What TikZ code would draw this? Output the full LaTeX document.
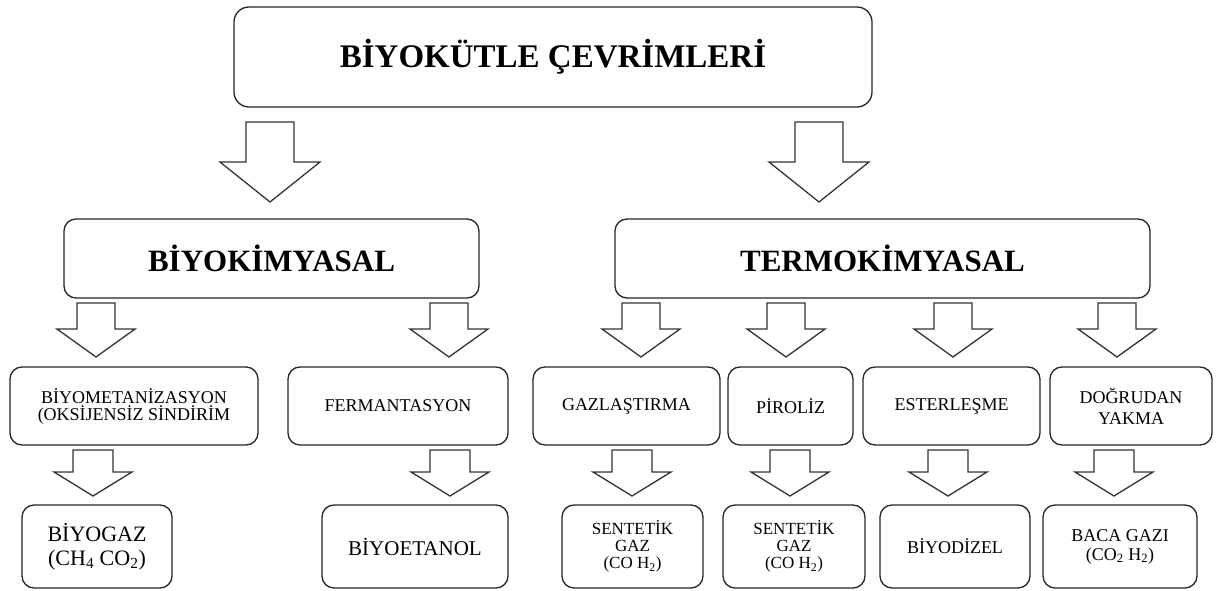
\documentclass[tikz,border=0pt]{standalone}
\usepackage{fontspec}
\setmainfont{Liberation Serif}
\usepackage{tikz}
\usetikzlibrary{positioning}

\newcommand{\downarr}[6]{%
  \draw[arrline] ({#1-#5},#2) -- ({#1+#5},#2) -- ({#1+#5},#3) -- ({#1+#6},#3)
    -- (#1,#4) -- ({#1-#6},#3) -- ({#1-#5},#3) -- cycle;}

\begin{document}
\begin{tikzpicture}[
    x=1pt, y=-1pt,
    box/.style={draw=black!85, line width=1.3pt, rounded corners=12pt,
      align=center, inner sep=0pt, fill=white},
    arrline/.style={draw=black!80, line width=1.3pt, fill=white, line join=miter},
    big/.style={font=\fontsize{31}{34}\selectfont\bfseries},
    small/.style={font=\fontsize{18}{18}\selectfont}
    ]

    \useasboundingbox (0,0) rectangle (1216,591);

    \node[box, rounded corners=15pt, minimum width=638pt, minimum height=100pt,
      font=\fontsize{33}{36}\selectfont\bfseries]
      (cevrim) at (553,57) {BİYOKÜTLE ÇEVRİMLERİ};

    \downarr{270}{122}{162}{202}{24}{50}
    \downarr{819}{122}{162}{202}{24}{50}

    \node[box, big, minimum width=415pt, minimum height=79pt]
      (biyokim) at (271.5,258.5) {BİYOKİMYASAL};
    \node[box, big, minimum width=535pt, minimum height=79pt]
      (termokim) at (882.5,258.5) {TERMOKİMYASAL};

    \foreach \tx in {96,449,641,786,953,1117}{
      \downarr{\tx}{303}{329}{357}{19}{39}
    }

    \node[box, small, minimum width=248pt, minimum height=78pt, font=\fontsize{18}{17}\selectfont]
      (metan) at (134,406) {BİYOMETANİZASYON\\(OKSİJENSİZ SİNDİRİM};
    \node[box, small, minimum width=220pt, minimum height=78pt]
      (ferm) at (398,406) {FERMANTASYON};
    \node[box, small, minimum width=187pt, minimum height=78pt]
      (gazlas) at (626.5,406) {GAZLAŞTIRMA};
    \node[box, small, minimum width=125pt, minimum height=78pt]
      (piroliz) at (790.5,406) {PİROLİZ};
    \node[box, small, minimum width=177pt, minimum height=78pt]
      (ester) at (951.5,406) {ESTERLEŞME};
    \node[box, small, minimum width=162pt, minimum height=78pt, font=\fontsize{18}{21}\selectfont]
      (yakma) at (1131,406) {DOĞRUDAN\\YAKMA};

    \foreach \tx in {93,450,632,790,948,1114}{
      \downarr{\tx}{450}{472}{496}{20}{39}
    }

    \node[box, minimum width=150pt, minimum height=83pt, font=\fontsize{22}{24}\selectfont]
      (biyogaz) at (97,546.5) {BİYOGAZ\\(CH\textsubscript{4} CO\textsubscript{2})};
    \node[box, minimum width=186pt, minimum height=83pt, font=\fontsize{21}{24}\selectfont]
      (etanol) at (415,546.5) {BİYOETANOL};
    \node[box, minimum width=141pt, minimum height=83pt, font=\fontsize{17}{17}\selectfont]
      (sentez1) at (632.5,546.5) {SENTETİK\\GAZ\\(CO H\textsubscript{2})};
    \node[box, minimum width=142pt, minimum height=83pt, font=\fontsize{17}{17}\selectfont]
      (sentez2) at (794,546.5) {SENTETİK\\GAZ\\(CO H\textsubscript{2})};
    \node[box, small, minimum width=150pt, minimum height=83pt]
      (dizel) at (955,546.5) {BİYODİZEL};
    \node[box, minimum width=154pt, minimum height=83pt, font=\fontsize{18}{19}\selectfont]
      (baca) at (1120,546.5) {BACA GAZI\\(CO\textsubscript{2} H\textsubscript{2})};

\end{tikzpicture}
\end{document}
